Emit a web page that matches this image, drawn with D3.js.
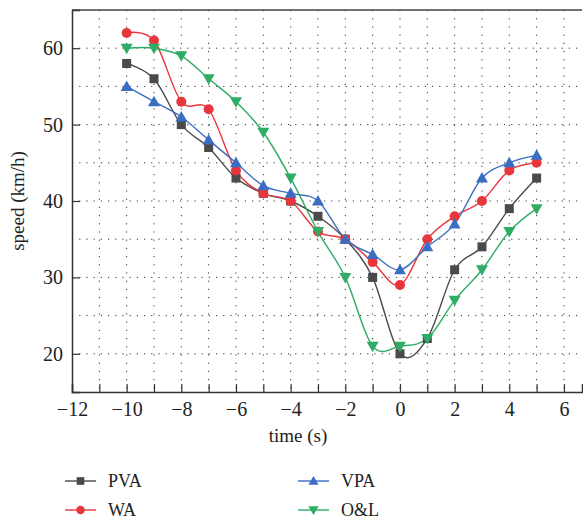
<!DOCTYPE html>
<html>
<head>
<meta charset="utf-8">
<script src="https://cdn.jsdelivr.net/npm/d3@7"></script>
<style>
  body { margin: 0; background: #fff; }
  svg text { font-family: "Liberation Serif", "DejaVu Serif", "Times New Roman", serif !important; fill: #222; }
</style>
</head>
<body>
<div id="chart"></div>
<script>
// tiempo en segundos
const tiempos = [-10, -9, -8, -7, -6, -5, -4, -3, -2, -1, 0, 1, 2, 3, 4, 5];
const pva = [58, 56, 50, 47, 43, 41, 40, 38, 35, 30, 20, 22, 31, 34, 39, 43];
const wa  = [62, 61, 53, 52, 44, 41, 40, 36, 35, 32, 29, 35, 38, 40, 44, 45];
const vpa = [55, 53, 51, 48, 45, 42, 41, 40, 35, 33, 31, 34, 37, 43, 45, 46];
const ol  = [60, 60, 59, 56, 53, 49, 43, 36, 30, 21, 21, 22, 27, 31, 36, 39];
const xTicks = [-12, -10, -8, -6, -4, -2, 0, 2, 4, 6];
const yTicks = [20, 30, 40, 50, 60];

const series = [
    { nombre: "PVA", valores: pva, color: "#4a4a4a", marca: "square" },
    { nombre: "WA", valores: wa, color: "#e8363c", marca: "circle" },
    { nombre: "VPA", valores: vpa, color: "#3b6ec2", marca: "up" },
    { nombre: "O&L", valores: ol, color: "#2fac66", marca: "down" }
];

const fuente = "'Liberation Serif', 'DejaVu Serif', serif";

const svgWidth = 583, svgHeight = 520;
const margin = { top: 10, right: 1, bottom: 128, left: 72 };
const width = svgWidth - margin.left - margin.right;
const height = svgHeight - margin.top - margin.bottom;

const svg = d3.select("#chart")
    .append("svg")
    .attr("width", svgWidth)
    .attr("height", svgHeight)
    .attr("font-family", fuente)
    .append("g")
    .attr("transform", `translate(${margin.left}, ${margin.top})`);

const x = d3.scaleLinear().domain([-12, 6.66]).range([0, width]);
const y = d3.scaleLinear().domain([15, 65]).range([height, 0]);

// Rejilla punteada
svg.append("g")
    .selectAll("line")
    .data(d3.range(-11, 7))
    .enter().append("line")
    .attr("x1", d => x(d)).attr("x2", d => x(d))
    .attr("y1", 0).attr("y2", height)
    .attr("stroke", "#333")
    .attr("stroke-width", 1)
    .attr("stroke-dasharray", "1.2,7");

svg.append("g")
    .selectAll("line")
    .data(d3.range(20, 65, 5))
    .enter().append("line")
    .attr("x1", 0).attr("x2", width)
    .attr("y1", d => y(d)).attr("y2", d => y(d))
    .attr("stroke", "#333")
    .attr("stroke-width", 1)
    .attr("stroke-dasharray", "1.2,6");

// Marco superior
svg.append("line")
    .attr("x1", 0).attr("x2", width)
    .attr("y1", 0).attr("y2", 0)
    .attr("stroke", "#444").attr("stroke-width", 1.5);

// Eje X
const ejeX = svg.append("g")
    .attr("transform", `translate(0, ${height})`)
    .call(d3.axisBottom(x)
        .tickValues(d3.range(-12, 7))
        .tickSize(-8)
        .tickFormat(d => xTicks.includes(d) ? d3.format("")(d).replace("-", "\u2212") : ""));
ejeX.attr("font-family", fuente);
ejeX.select(".domain").attr("stroke", "#333").attr("stroke-width", 1.5);
ejeX.selectAll(".tick line").attr("stroke", "#333").attr("stroke-width", 1.2);
ejeX.selectAll("text").attr("dy", "1.05em").style("font-size", "20px");

// Eje Y
const ejeY = svg.append("g")
    .call(d3.axisLeft(y)
        .tickValues(yTicks)
        .tickSize(-8)
        .tickPadding(9));
ejeY.attr("font-family", fuente);
ejeY.select(".domain").attr("stroke", "#333").attr("stroke-width", 1.5);
ejeY.selectAll(".tick line").attr("stroke", "#333").attr("stroke-width", 1.2);
ejeY.selectAll("text").style("font-size", "20px");

// Lineas
const linea = d3.line()
    .x((d, i) => x(tiempos[i]))
    .y(d => y(d))
    .curve(d3.curveCardinal.tension(0));

function dibujarMarca(g, tipo, color) {
    if (tipo === "square") {
        g.append("rect").attr("x", -4.5).attr("y", -4.5).attr("width", 9).attr("height", 9).attr("fill", color);
    } else if (tipo === "circle") {
        g.append("circle").attr("r", 5).attr("fill", color);
    } else if (tipo === "up") {
        g.append("path").attr("d", "M0,-6L6,4.5L-6,4.5Z").attr("fill", color);
    } else {
        g.append("path").attr("d", "M0,6L6,-4.5L-6,-4.5Z").attr("fill", color);
    }
}

series.forEach(s => {
    svg.append("path")
        .datum(s.valores)
        .attr("fill", "none")
        .attr("stroke", s.color)
        .attr("stroke-width", 1.4)
        .attr("d", linea);
});

series.forEach(s => {
    svg.append("g")
        .selectAll("g")
        .data(s.valores)
        .enter().append("g")
        .attr("transform", (d, i) => `translate(${x(tiempos[i])}, ${y(d)})`)
        .each(function () { dibujarMarca(d3.select(this), s.marca, s.color); });
});

// Etiqueta de eje X
svg.append("text")
    .attr("x", 226)
    .attr("y", height + 50)
    .attr("text-anchor", "middle")
    .style("font-size", "19px")
    .text("time (s)");

// Etiqueta de eje Y
svg.append("text")
    .attr("x", -height / 2)
    .attr("y", -48)
    .attr("transform", "rotate(-90)")
    .attr("text-anchor", "middle")
    .style("font-size", "19px")
    .text("speed (km/h)");

// Leyenda
const posLeyenda = [[65, 481], [65, 510], [298, 481], [298, 510]];
series.forEach((s, i) => {
    const [lx, ly] = posLeyenda[i];
    const g = d3.select("svg").append("g").attr("transform", `translate(${lx}, ${ly})`);
    g.append("line").attr("x1", 0).attr("x2", 31).attr("y1", 0).attr("y2", 0)
        .attr("stroke", s.color).attr("stroke-width", 1.4);
    const m = g.append("g");
    dibujarMarca(m, s.marca, s.color);
    m.attr("transform", "translate(15.5, 0) scale(0.85)");
    g.append("text").attr("x", 43).attr("y", 0).attr("dy", "0.35em")
        .style("font-size", "18px").text(s.nombre);
});
</script>
</body>
</html>
